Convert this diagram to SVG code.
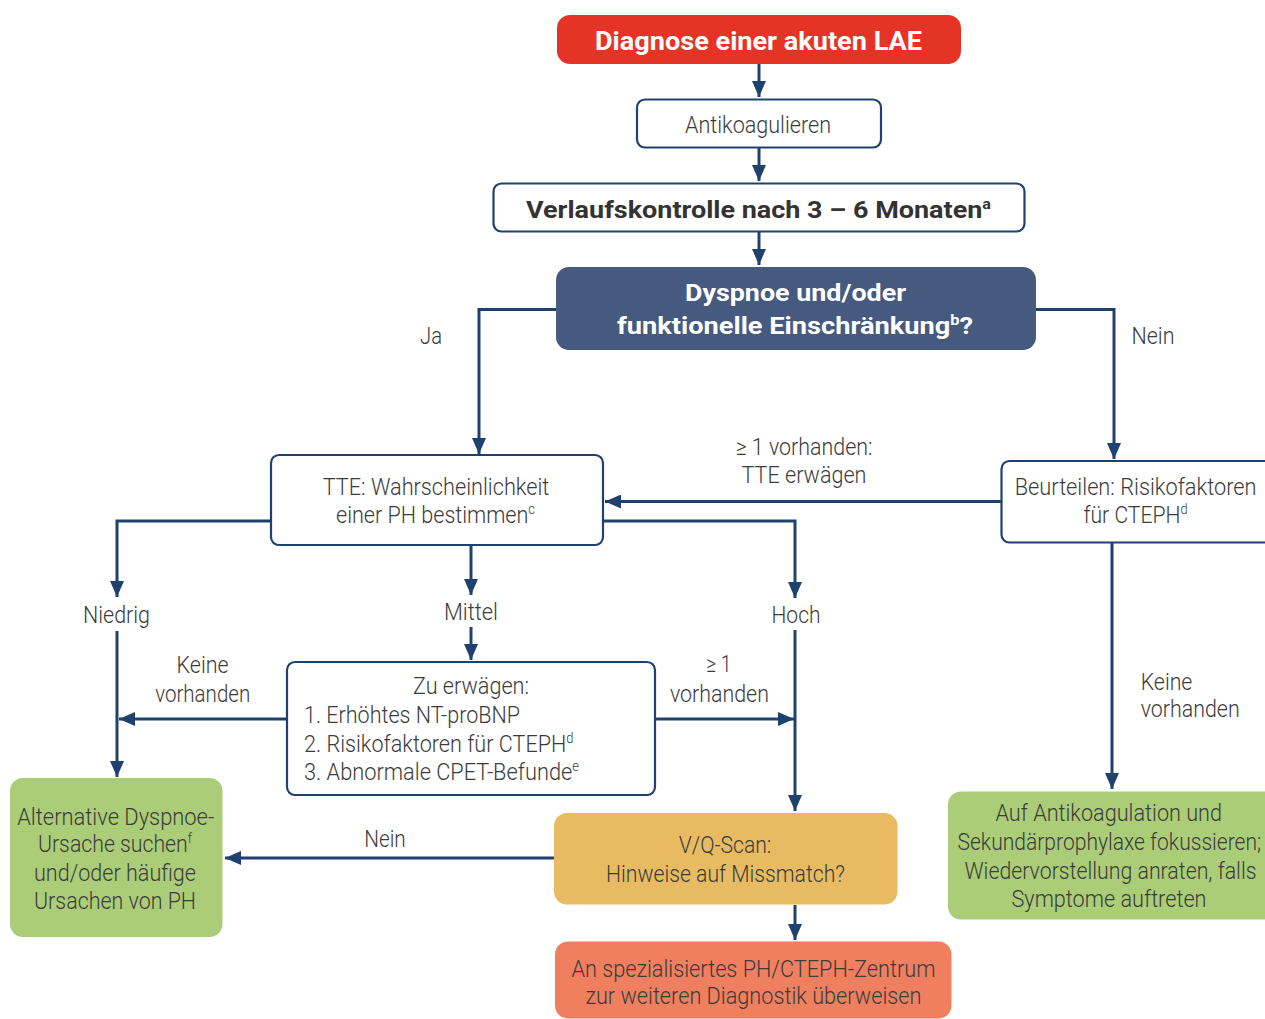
<svg xmlns="http://www.w3.org/2000/svg" width="1265" height="1019" viewBox="0 0 1265 1019">
<style>
.t{font-family:"Roboto","Liberation Sans",sans-serif;font-weight:300;font-size:23px;fill:#3b3b3b}
.c{text-anchor:middle}
.b{font-family:"Roboto","Liberation Sans",sans-serif;font-weight:700}
.wb{fill:#fff;stroke:#1e416f;stroke-width:2.2}
.ln{fill:none;stroke:#1e416f;stroke-width:3}
.sup{font-size:60%}
</style>
<defs>
<marker id="ah" markerUnits="userSpaceOnUse" markerWidth="16" markerHeight="14" refX="16" refY="7" orient="auto">
<path d="M0,0 L16,7 L0,14 Z" fill="#1e416f"/>
</marker>
</defs>
<rect width="1265" height="1019" fill="#fff"/>

<g id="connectors" class="ln" marker-end="url(#ah)">
<path d="M759,64 V97"/>
<path d="M759,148 V181"/>
<path d="M759,232 V265"/>
<path d="M556,309.5 H479 V454"/>
<path d="M1036,309.5 H1114 V459"/>
<path d="M1001,501.5 H605"/>
<path d="M271,521 H117 V597"/>
<path d="M117,631 V777"/>
<path d="M471,546 V595"/>
<path d="M471,627 V660"/>
<path d="M603,521 H795 V598"/>
<path d="M795,630 V811"/>
<path d="M287,719 H119"/>
<path d="M655,719 H794"/>
<path d="M554,858 H225"/>
<path d="M795,905 V940"/>
<path d="M1112,543 V789"/>
</g>

<g id="labels" class="t c">
<text x="431" y="344" textLength="22" lengthAdjust="spacingAndGlyphs">Ja</text>
<text x="1153" y="344" textLength="43" lengthAdjust="spacingAndGlyphs">Nein</text>
<text x="804" y="455" textLength="137" lengthAdjust="spacingAndGlyphs">≥ 1 vorhanden:</text>
<text x="804" y="483" textLength="125" lengthAdjust="spacingAndGlyphs">TTE erwägen</text>
<text x="116.5" y="623" textLength="67" lengthAdjust="spacingAndGlyphs">Niedrig</text>
<text x="471" y="620" textLength="54" lengthAdjust="spacingAndGlyphs">Mittel</text>
<text x="796" y="623" textLength="49" lengthAdjust="spacingAndGlyphs">Hoch</text>
<text x="202.6" y="673" textLength="52" lengthAdjust="spacingAndGlyphs">Keine</text>
<text x="202.7" y="701.7" textLength="95" lengthAdjust="spacingAndGlyphs">vorhanden</text>
<text x="718.7" y="672" textLength="25.5" lengthAdjust="spacingAndGlyphs">≥ 1</text>
<text x="719.4" y="701.7" textLength="99" lengthAdjust="spacingAndGlyphs">vorhanden</text>
<text x="1140.7" y="690" text-anchor="start" textLength="51.7" lengthAdjust="spacingAndGlyphs">Keine</text>
<text x="1140.7" y="717" text-anchor="start" textLength="99" lengthAdjust="spacingAndGlyphs">vorhanden</text>
<text x="385" y="847" textLength="41.6" lengthAdjust="spacingAndGlyphs">Nein</text>
</g>

<g id="node-diagnose">
<rect x="557" y="15" width="404" height="49" rx="13" fill="#e53426"/>
<text class="b c" x="758.5" y="50" font-size="26" fill="#fff" textLength="327" lengthAdjust="spacingAndGlyphs">Diagnose einer akuten LAE</text>
</g>

<g id="node-antikoagulieren">
<rect class="wb" x="637" y="99.5" width="244" height="48" rx="8"/>
<text class="t c" x="758" y="133" textLength="146" lengthAdjust="spacingAndGlyphs">Antikoagulieren</text>
</g>

<g id="node-verlauf">
<rect class="wb" x="493.5" y="183.5" width="531" height="48" rx="8"/>
<text class="b c" x="758.5" y="217.5" font-size="24.5" fill="#333" textLength="465" lengthAdjust="spacingAndGlyphs">Verlaufskontrolle nach 3 – 6 Monaten<tspan class="sup" dy="-9">a</tspan></text>
</g>

<g id="node-dyspnoe">
<rect x="556" y="267" width="480" height="83" rx="13" fill="#465a80"/>
<text class="b c" x="795.5" y="301" font-size="24" fill="#fff" textLength="221" lengthAdjust="spacingAndGlyphs">Dyspnoe und/oder</text>
<text class="b c" x="795" y="333.5" font-size="24" fill="#fff" textLength="356" lengthAdjust="spacingAndGlyphs">funktionelle Einschränkung<tspan class="sup" dy="-9">b</tspan><tspan dy="9">?</tspan></text>
</g>

<g id="node-tte">
<rect class="wb" x="271" y="455" width="332" height="90" rx="8"/>
<text class="t c" x="436" y="495" textLength="226.6" lengthAdjust="spacingAndGlyphs">TTE: Wahrscheinlichkeit</text>
<text class="t c" x="435.5" y="523" textLength="199" lengthAdjust="spacingAndGlyphs">einer PH bestimmen<tspan class="sup" dy="-9">c</tspan></text>
</g>

<g id="node-beurteilen">
<rect class="wb" x="1001.5" y="461" width="290" height="81.5" rx="8"/>
<text class="t c" x="1135.6" y="495" textLength="241.7" lengthAdjust="spacingAndGlyphs">Beurteilen: Risikofaktoren</text>
<text class="t c" x="1135.5" y="523" textLength="104" lengthAdjust="spacingAndGlyphs">für CTEPH<tspan class="sup" dy="-9">d</tspan></text>
</g>

<g id="node-zu-erwaegen">
<rect class="wb" x="287" y="662" width="368" height="133" rx="8"/>
<text class="t c" x="471" y="694" textLength="116" lengthAdjust="spacingAndGlyphs">Zu erwägen:</text>
<text class="t" x="304" y="722.7" textLength="216" lengthAdjust="spacingAndGlyphs">1. Erhöhtes NT-proBNP</text>
<text class="t" x="304" y="751.7" textLength="269.5" lengthAdjust="spacingAndGlyphs">2. Risikofaktoren für CTEPH<tspan class="sup" dy="-9">d</tspan></text>
<text class="t" x="304" y="780" textLength="275" lengthAdjust="spacingAndGlyphs">3. Abnormale CPET-Befunde<tspan class="sup" dy="-9">e</tspan></text>
</g>

<g id="node-alternative">
<rect x="10" y="778" width="212.5" height="159" rx="13" fill="#abcd78"/>
<text class="t c" x="115.7" y="825" textLength="197" lengthAdjust="spacingAndGlyphs">Alternative Dyspnoe-</text>
<text class="t c" x="115" y="852" textLength="154" lengthAdjust="spacingAndGlyphs">Ursache suchen<tspan class="sup" dy="-9">f</tspan></text>
<text class="t c" x="115" y="880.5" textLength="162" lengthAdjust="spacingAndGlyphs">und/oder häufige</text>
<text class="t c" x="115" y="909" textLength="162" lengthAdjust="spacingAndGlyphs">Ursachen von PH</text>
</g>

<g id="node-vq">
<rect x="554" y="813" width="343.5" height="91.5" rx="13" fill="#e8bb62"/>
<text class="t c" x="725" y="853" textLength="92.5" lengthAdjust="spacingAndGlyphs">V/Q-Scan:</text>
<text class="t c" x="725.5" y="882" textLength="239" lengthAdjust="spacingAndGlyphs">Hinweise auf Missmatch?</text>
</g>

<g id="node-zentrum">
<rect x="555" y="941.5" width="396.5" height="77" rx="13" fill="#ef7f5f"/>
<text class="t c" x="753.4" y="977" textLength="364" lengthAdjust="spacingAndGlyphs">An spezialisiertes PH/CTEPH-Zentrum</text>
<text class="t c" x="753.4" y="1004" textLength="336" lengthAdjust="spacingAndGlyphs">zur weiteren Diagnostik überweisen</text>
</g>

<g id="node-antikoagulation">
<rect x="948" y="791.5" width="330" height="128" rx="13" fill="#abcd78"/>
<text class="t c" x="1108.7" y="821" textLength="226.6" lengthAdjust="spacingAndGlyphs">Auf Antikoagulation und</text>
<text class="t c" x="1109.3" y="850" textLength="303.7" lengthAdjust="spacingAndGlyphs">Sekundärprophylaxe fokussieren;</text>
<text class="t c" x="1110.5" y="878.5" textLength="292" lengthAdjust="spacingAndGlyphs">Wiedervorstellung anraten, falls</text>
<text class="t c" x="1109" y="907" textLength="195" lengthAdjust="spacingAndGlyphs">Symptome auftreten</text>
</g>
</svg>
